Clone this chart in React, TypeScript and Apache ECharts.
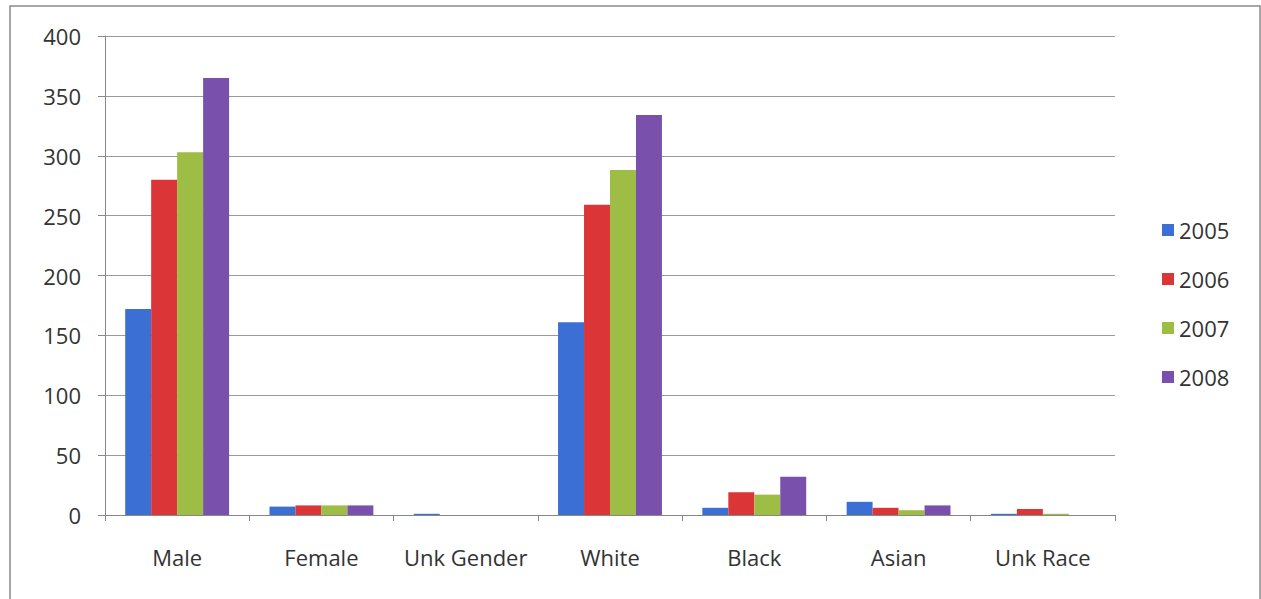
import React, { useEffect, useRef } from "react";
import * as echarts from "echarts";

const categories = ["Male", "Female", "Unk Gender", "White", "Black", "Asian", "Unk Race"];
const seriesNames = ["2005", "2006", "2007", "2008"];
const values2005 = [172, 7, 1, 161, 6, 11, 1];
const values2006 = [280, 8, 0, 259, 19, 6, 5];
const values2007 = [303, 8, 0, 288, 17, 4, 1];
const values2008 = [365, 8, 0, 334, 32, 8, 0];
const colors = ["#3b6fd3", "#db3537", "#9dbd45", "#7a50ad"];
const yTicks = { min: 0, max: 400, interval: 50 };

const FONT = "'Open Sans', sans-serif";

export default function App() {
  const ref = useRef<HTMLDivElement>(null);
  useEffect(() => {
    if (!ref.current) return;
    const chart = echarts.init(ref.current, null, { renderer: "svg" });
    const all = [values2005, values2006, values2007, values2008];
    chart.setOption({
      animation: false,
      backgroundColor: "#ffffff",
      textStyle: { fontFamily: FONT },
      graphic: [
        {
          type: "rect",
          shape: { x: 10, y: 6, width: 1250, height: 600 },
          style: { fill: "none", stroke: "#8a8a8a", lineWidth: 1.5 },
          silent: true,
        },
      ],
      grid: { left: 105, top: 36, right: 146, bottom: 84, containLabel: false },
      legend: {
        orient: "vertical",
        left: 1162,
        top: 219,
        padding: 0,
        itemWidth: 12,
        itemHeight: 12,
        itemGap: 27,
        icon: "rect",
        textStyle: { fontSize: 22, color: "#333", fontFamily: FONT },
        data: seriesNames,
      },
      xAxis: {
        type: "category",
        data: categories,
        axisLine: { lineStyle: { color: "#888", width: 1 } },
        axisTick: { show: true, length: 6, lineStyle: { color: "#888" } },
        axisLabel: { fontSize: 22, color: "#333", margin: 31, interval: 0, fontFamily: FONT },
      },
      yAxis: {
        type: "value",
        min: yTicks.min,
        max: yTicks.max,
        interval: yTicks.interval,
        axisLine: { show: true, lineStyle: { color: "#888", width: 1 } },
        axisTick: { show: true, length: 7, lineStyle: { color: "#888" } },
        axisLabel: { fontSize: 22, color: "#333", margin: 24, fontFamily: FONT },
        splitLine: { lineStyle: { color: "#999", width: 1 } },
      },
      series: seriesNames.map((name, i) => ({
        name,
        type: "bar",
        data: all[i],
        barGap: "0%",
        barCategoryGap: "28%",
        itemStyle: { color: colors[i] },
      })),
    });
    return () => chart.dispose();
  }, []);
  return (
    <div
      ref={ref}
      style={{ position: "fixed", left: 0, top: 0, width: 1261, height: 599 }}
    />
  );
}
